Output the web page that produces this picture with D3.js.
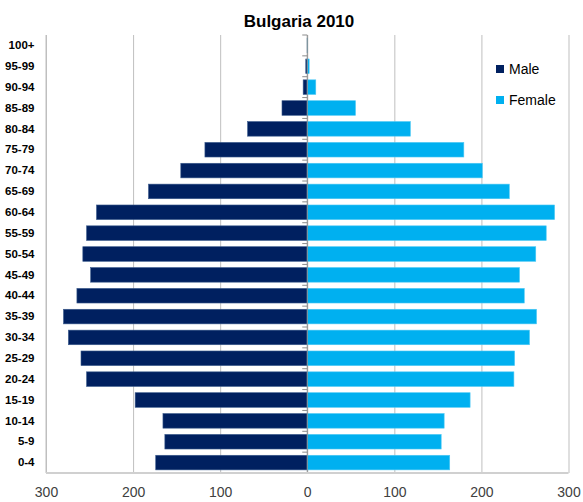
<!DOCTYPE html>
<html>
<head>
<meta charset="utf-8">
<script src="https://cdn.jsdelivr.net/npm/d3@7"></script>
<style>
  html, body { margin: 0; padding: 0; background: #fff; }
  svg { display: block; }
</style>
</head>
<body>
<svg id="chart" width="583" height="502"></svg>
<script>
const categories = ["0-4","5-9","10-14","15-19","20-24","25-29","30-34","35-39","40-44","45-49","50-54","55-59","60-64","65-69","70-74","75-79","80-84","85-89","90-94","95-99","100+"];
const maleValues = [174, 163.5, 165.7, 197.6, 253.4, 259.8, 274.3, 279.9, 264.5, 248.7, 257.7, 253.4, 242, 182.3, 145.2, 117.5, 68.5, 29, 4.7, 1.7, 0.1];
const femaleValues = [163.6, 153.8, 157.2, 187, 237.3, 238.1, 255.2, 263.3, 249.2, 243.7, 262.4, 274.4, 284, 232, 201, 179.8, 118.4, 55.4, 9.8, 2.2, 0.1];
const tickValues = [-300, -200, -100, 0, 100, 200, 300];
const seriesNames = ["Male", "Female"];
const seriesColors = ["#002060", "#00b0f0"];

(function () {
const svg = d3.select("#chart");
const pLeft = 46, pRight = 568.5, pTop = 35, pBottom = 473;

const x = d3.scaleLinear().domain([-300, 300]).range([pLeft, pRight]);
const y = d3.scaleBand().domain(categories.slice().reverse()).range([pTop, pBottom])
  .paddingInner(0.3).paddingOuter(0.15);

// gridlines
const grid = svg.append("g").attr("transform", `translate(0,${pBottom})`)
  .call(d3.axisBottom(x).tickValues(tickValues).tickSize(-(pBottom - pTop)).tickFormat(""));
grid.select(".domain").remove();
grid.selectAll(".tick line").attr("stroke", "#bfbfbf").attr("stroke-width", 1);

// left axis line
svg.append("line").attr("x1", pLeft).attr("x2", pLeft).attr("y1", pTop).attr("y2", pBottom)
  .attr("stroke", "#bfbfbf");

// bars
const rows = categories.map((c, i) => ({ cat: c, m: maleValues[i], f: femaleValues[i] }));
svg.append("g").selectAll("rect").data(rows).join("rect")
  .attr("x", d => x(-d.m)).attr("width", d => x(0) - x(-d.m))
  .attr("y", d => y(d.cat)).attr("height", y.bandwidth())
  .attr("fill", seriesColors[0]).attr("stroke", "#3a5a8c").attr("stroke-width", 0.6);
svg.append("g").selectAll("rect").data(rows).join("rect")
  .attr("x", x(0)).attr("width", d => x(d.f) - x(0))
  .attr("y", d => y(d.cat)).attr("height", y.bandwidth())
  .attr("fill", seriesColors[1]).attr("stroke", "#4cc8f4").attr("stroke-width", 0.6);

// zero line with boundary ticks
const zeroAxis = svg.append("g").attr("transform", `translate(${x(0)},0)`);
zeroAxis.append("line").attr("x1", 0).attr("x2", 0).attr("y1", pTop).attr("y2", pBottom)
  .attr("stroke", "#8c8c8c");
const bounds = categories.slice().reverse().map(c => y(c) - y.step() * y.paddingInner() / 2);
bounds.push(pBottom);
zeroAxis.selectAll("line.tk").data(bounds).join("line").attr("class", "tk")
  .attr("x1", -5).attr("x2", 0).attr("y1", d => d).attr("y2", d => d)
  .attr("stroke", "#8c8c8c");

// bottom axis
svg.append("line").attr("x1", pLeft).attr("x2", pRight).attr("y1", pBottom).attr("y2", pBottom)
  .attr("stroke", "#d0d0d0").attr("stroke-width", 2);
const xAxis = svg.append("g").attr("transform", `translate(0,${pBottom})`)
  .call(d3.axisBottom(x).tickValues(tickValues).tickSize(0).tickPadding(14).tickFormat(d => Math.abs(d)));
xAxis.select(".domain").remove();
xAxis.selectAll("text").attr("font-family", "Liberation Sans, Arial, sans-serif")
  .attr("font-size", 14).attr("fill", "#404040");

// category axis
const yAxis = svg.append("g").attr("transform", `translate(${pLeft},0)`)
  .call(d3.axisLeft(y).tickSize(0).tickPadding(11.5));
yAxis.select(".domain").remove();
yAxis.selectAll("text").attr("font-family", "Liberation Sans, Arial, sans-serif")
  .attr("font-size", 11.5).attr("font-weight", "bold").attr("fill", "#000");

// title
svg.append("text").attr("x", 299).attr("y", 26.5).attr("text-anchor", "middle")
  .attr("font-family", "Liberation Sans, Arial, sans-serif").attr("font-size", 17)
  .attr("font-weight", "bold").attr("fill", "#000").text("Bulgaria 2010");

// legend
const legend = svg.append("g");
seriesNames.forEach((n, i) => {
  const cy = 69 + i * 31;
  legend.append("rect").attr("x", 496).attr("y", cy - 4).attr("width", 8).attr("height", 8)
    .attr("fill", seriesColors[i]);
  legend.append("text").attr("x", 509).attr("y", cy + 5)
    .attr("font-family", "Liberation Sans, Arial, sans-serif").attr("font-size", 14)
    .attr("fill", "#000").text(n);
});
})();
</script>
</body>
</html>
